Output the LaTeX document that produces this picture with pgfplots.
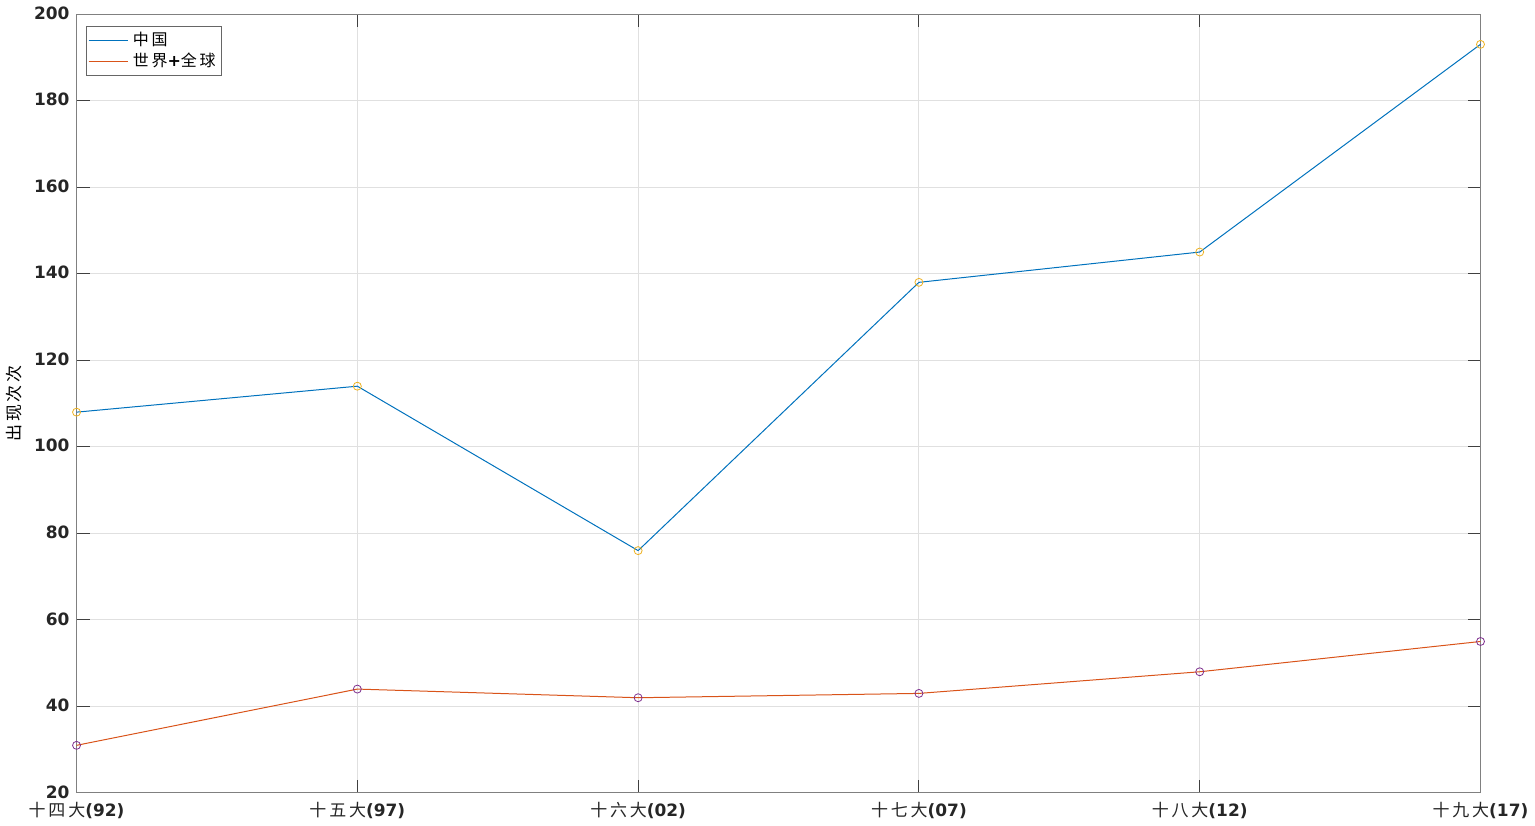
\documentclass[border=0pt]{standalone}
\usepackage{fontspec}
\setmainfont{DejaVu Sans}
\newfontfamily\cjk{Noto Sans CJK SC}
\usepackage{pgfplots}
\pgfplotsset{compat=1.18}
\definecolor{mblue}{HTML}{0072BD}
\definecolor{morange}{HTML}{D95319}
\definecolor{myellow}{HTML}{EDB120}
\definecolor{mpurple}{HTML}{7E2F8E}
\newcommand{\ck}[1]{{\cjk\mdseries\fontsize{8.5}{10}\selectfont #1}}
\begin{document}
\begin{tikzpicture}
\begin{axis}[
  scale only axis,
  width=703pt, height=390pt,
  xmin=0, xmax=5, ymin=20, ymax=200,
  xtick={0,1,2,3,4,5},
  xticklabels={\ck{十\,四\,大}(92),\ck{十\,五\,大}(97),\ck{十\,六\,大}(02),\ck{十\,七\,大}(07),\ck{十\,八\,大}(12),\ck{十\,九\,大}(17)},
  ytick={20,40,...,200},
  tick label style={font=\fontsize{8.5}{10}\selectfont\bfseries, text=black!85},
  yticklabel style={yshift=0.5pt},
  /pgf/number format/assume math mode=true,
  tick align=inside,
  major tick length=6.5pt,
  tick style={black!75, line width=0.5pt},
  axis line style={black!50, line width=0.5pt},
  grid=major,
  grid style={black!12, line width=0.5pt},
  ylabel={\cjk 出\,现\,次\,次},
  ylabel style={font=\fontsize{8.5}{10}\selectfont, at={(ticklabel cs:0.5)}, anchor=south, yshift=-1pt},
  xticklabel style={yshift=-1pt},
  legend style={at={(rel axis cs:0,1)}, anchor=north west, xshift=4.5pt, yshift=-6pt,
    font=\fontsize{8}{8.5}\selectfont\cjk, draw=black!60, line width=0.5pt, inner sep=1pt, row sep=-2pt},
  legend image code/.code={\draw[#1, line width=0.5pt] (0pt,0pt) -- (20pt,0pt);},
  legend cell align=left,
  clip=false,
]
\addplot[mblue, line width=0.5pt] coordinates {(0,108) (1,114) (2,76) (3,138) (4,145) (5,193)};
\addlegendentry{中\,国}
\addplot[morange, line width=0.5pt] coordinates {(0,31) (1,44) (2,42) (3,43) (4,48) (5,55)};
\addlegendentry{世\,界{\fontspec{DejaVu Sans}\bfseries +}全\,球}
\addplot[only marks, mark=o, mark size=2pt, myellow, line width=0.4pt, forget plot] coordinates {(0,108) (1,114) (2,76) (3,138) (4,145) (5,193)};
\addplot[only marks, mark=o, mark size=2pt, mpurple, line width=0.4pt, forget plot] coordinates {(0,31) (1,44) (2,42) (3,43) (4,48) (5,55)};
\end{axis}
\end{tikzpicture}
\end{document}
